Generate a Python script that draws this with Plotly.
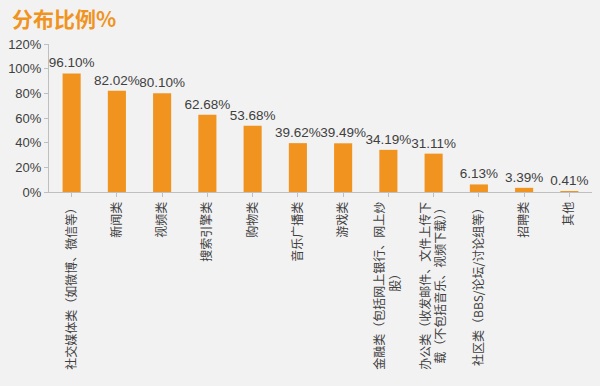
import plotly.graph_objects as go

categories = [
    "社交媒体类（如微博、微信等）",
    "新闻类",
    "视频类",
    "搜索引擎类",
    "购物类",
    "音乐广播类",
    "游戏类",
    "金融类（包括网上银行、网上炒<br>股）　　　　　　",
    "办公类（收发邮件、文件上传下<br>载（不包括音乐、视频下载））",
    "社区类（BBS/论坛/讨论组等）",
    "招聘类",
    "其他",
]
values = [96.10, 82.02, 80.10, 62.68, 53.68, 39.62, 39.49, 34.19, 31.11, 6.13, 3.39, 0.41]
y_ticks = [0, 20, 40, 60, 80, 100, 120]
y_tick_labels = ["0%", "20%", "40%", "60%", "80%", "100%", "120%"]

FONT = "Arial, 'Liberation Sans', 'Noto Sans CJK SC', sans-serif"
ORANGE = "#f0941f"

x_idx = list(range(len(categories)))

fig = go.Figure(
    go.Bar(
        x=x_idx,
        y=values,
        width=0.4,
        marker=dict(color=ORANGE, line=dict(width=0)),
        text=[f"{v:.2f}%" for v in values],
        textposition="outside",
        constraintext="none",
        cliponaxis=False,
        textfont=dict(family=FONT, size=13.5, color="#404040"),
    )
)

fig.update_layout(
    width=600,
    height=386,
    margin=dict(l=46, r=8, t=44, b=194),
    paper_bgcolor="#f2f2f2",
    plot_bgcolor="#f2f2f2",
    showlegend=False,
    font=dict(family=FONT, color="#404040"),
    title=dict(
        text="<b>分布比例%</b>",
        x=0.02,
        xanchor="left",
        y=0.95,
        yanchor="middle",
        font=dict(family="'Noto Sans CJK SC', sans-serif", size=21, color=ORANGE),
    ),
)

fig.update_xaxes(
    tickmode="array",
    tickvals=x_idx,
    ticktext=categories,
    range=[-0.5, len(categories) - 0.5],
    tickangle=-90,
    tickfont=dict(family="'Noto Sans CJK SC', sans-serif", size=12, color="#404040"),
    showline=True,
    linecolor="#bfbfbf",
    linewidth=1,
    ticks="outside",
    ticklen=4,
    tickcolor="#bfbfbf",
    tickson="boundaries",
    showgrid=False,
    zeroline=False,
)

fig.update_yaxes(
    range=[0, 120],
    tickmode="array",
    tickvals=y_ticks,
    ticktext=y_tick_labels,
    tickfont=dict(family=FONT, size=13, color="#404040"),
    showline=True,
    linecolor="#bfbfbf",
    linewidth=1,
    ticks="outside",
    ticklen=4,
    tickcolor="#bfbfbf",
    showgrid=False,
    zeroline=False,
)

fig.write_html(
    "out.html",
    config={"displayModeBar": False},
    post_script="document.body.style.margin='0';document.body.style.background='#f2f2f2';",
)
